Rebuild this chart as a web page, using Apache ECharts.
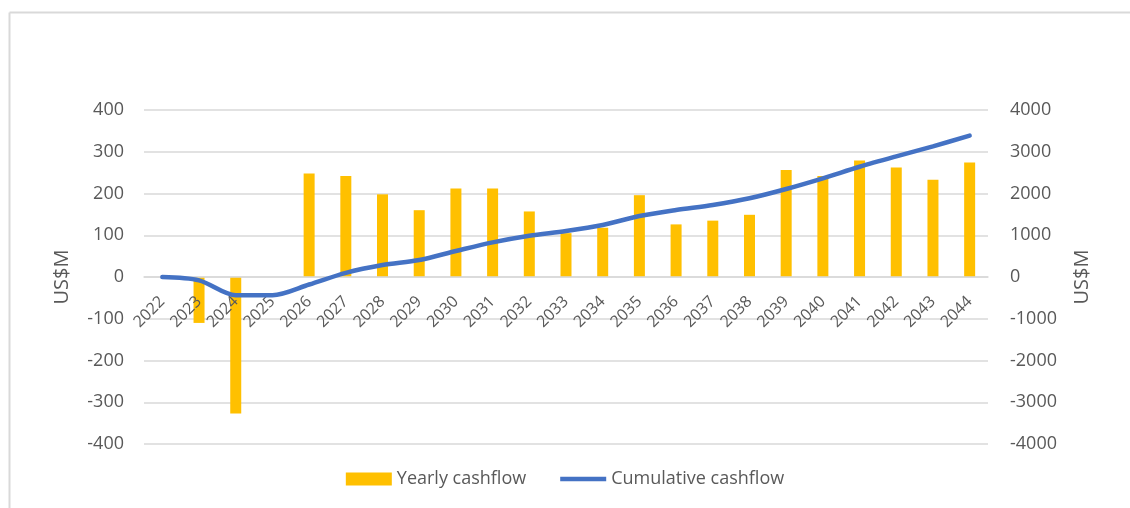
<!DOCTYPE html>
<html>
<head>
<meta charset="utf-8">
<script src="https://cdn.jsdelivr.net/npm/echarts@6/dist/echarts.min.js"></script>
<style>
html,body{margin:0;padding:0;background:#fff;}
#chart{width:1130px;height:508px;}
</style>
</head>
<body>
<div id="chart"></div>
<script>
const years = ['2022','2023','2024','2025','2026','2027','2028','2029','2030','2031','2032','2033','2034','2035','2036','2037','2038','2039','2040','2041','2042','2043','2044'];
const yearlyCashflow = [0, -110, -327, 0, 248, 242, 198, 160, 212, 212, 157, 105, 118, 196, 126, 135, 149, 256, 242, 279, 262, 233, 274];
const cumulativeCashflow = [0, -80, -435, -435, -180, 100, 287, 407, 623, 830, 990, 1100, 1245, 1460, 1605, 1725, 1885, 2108, 2364, 2640, 2890, 3130, 3385];
const leftTicks = {min: -400, max: 400, interval: 100};
const rightTicks = {min: -4000, max: 4000, interval: 1000};

const FONT = '"Open Sans", "Noto Sans", sans-serif';
const GRID_TOP = 110, GRID_BOTTOM = 64, H = 508;
const chart = echarts.init(document.getElementById('chart'), null, {renderer: 'canvas'});

// the category axis sits on the zero line: shift it up from the grid bottom by the zero's distance
const plotH = H - GRID_TOP - GRID_BOTTOM;
const zeroOffset = -plotH * (0 - leftTicks.min) / (leftTicks.max - leftTicks.min);

chart.setOption({
  animation: false,
  backgroundColor: '#ffffff',
  textStyle: {fontFamily: FONT},
  graphic: [
    {type: 'line', shape: {x1: 9.5, y1: 12.5, x2: 1130, y2: 12.5}, style: {stroke: '#d9d9d9', lineWidth: 2}},
    {type: 'line', shape: {x1: 9.5, y1: 12.5, x2: 9.5, y2: 508}, style: {stroke: '#d9d9d9', lineWidth: 2}}
  ],
  grid: {left: 144, right: 142, top: GRID_TOP, bottom: GRID_BOTTOM, containLabel: false},
  legend: {
    bottom: 15,
    left: 'center',
    itemGap: 34,
    itemWidth: 46,
    itemHeight: 13,
    textStyle: {fontFamily: FONT, fontSize: 18, color: '#595959'},
    data: [
      {name: 'Yearly cashflow', icon: 'rect'},
      {name: 'Cumulative cashflow', icon: 'path://M0,0h46v4.5h-46z'}
    ]
  },
  xAxis: {
    type: 'category',
    data: years,
    offset: zeroOffset,
    z: 3,
    axisLine: {onZero: false, lineStyle: {color: '#d9d9d9', width: 1.5}},
    axisTick: {show: false},
    axisLabel: {rotate: 45, margin: 22, fontSize: 16, color: '#595959', fontFamily: FONT, interval: 0}
  },
  yAxis: [
    {
      type: 'value',
      min: leftTicks.min, max: leftTicks.max, interval: leftTicks.interval,
      name: 'US$M', nameLocation: 'middle', nameGap: 72, nameRotate: 90,
      nameTextStyle: {fontSize: 20, color: '#595959', fontFamily: FONT},
      axisLine: {show: false}, axisTick: {show: false},
      axisLabel: {fontSize: 18, color: '#595959', margin: 20, fontFamily: FONT, formatter: v => String(v)},
      splitLine: {lineStyle: {color: '#d9d9d9', width: 1.5}}
    },
    {
      type: 'value',
      min: rightTicks.min, max: rightTicks.max, interval: rightTicks.interval,
      name: 'US$M', nameLocation: 'middle', nameGap: 84, nameRotate: 90,
      nameTextStyle: {fontSize: 20, color: '#595959', fontFamily: FONT},
      axisLine: {show: false}, axisTick: {show: false},
      axisLabel: {fontSize: 18, color: '#595959', margin: 22, fontFamily: FONT, formatter: v => String(v)},
      splitLine: {show: false}
    }
  ],
  series: [
    {
      name: 'Yearly cashflow',
      type: 'bar',
      yAxisIndex: 0,
      data: yearlyCashflow,
      barWidth: 11,
      itemStyle: {color: '#FFC000'}
    },
    {
      name: 'Cumulative cashflow',
      type: 'line',
      yAxisIndex: 1,
      data: cumulativeCashflow,
      smooth: 0.3,
      symbol: 'none',
      z: 4,
      lineStyle: {color: '#4472C4', width: 4.5, cap: 'round'},
      itemStyle: {color: '#4472C4'}
    }
  ]
});
</script>
</body>
</html>
